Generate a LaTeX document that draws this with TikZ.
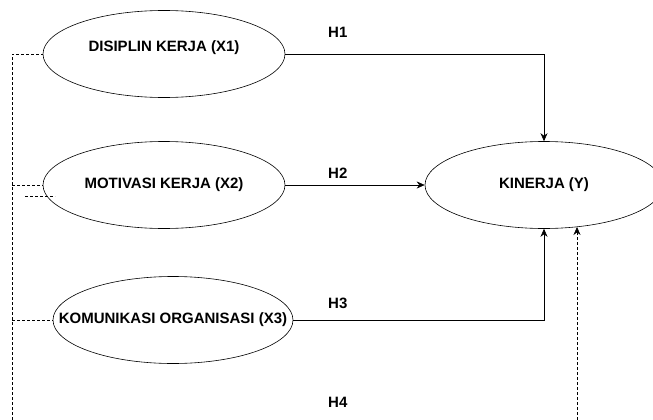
\documentclass[tikz,border=0pt]{standalone}
\usepackage{fontspec}
\setmainfont{Liberation Sans}
\usepackage{tikz}
\usetikzlibrary{shapes.geometric, arrows.meta, positioning}
\tikzstyle{arrow} = [semithick,->,>={Stealth[length=8pt,width=7pt]}]
\tikzstyle{dasharrow} = [semithick,->,>={Stealth[length=8pt,width=7pt]},dash pattern=on 3pt off 2pt]
\tikzstyle{dashline} = [semithick,dash pattern=on 3pt off 2pt]
\tikzstyle{var} = [ellipse, draw, semithick, minimum width=242pt, minimum height=87pt, inner sep=0pt, font=\fontsize{15}{17}\selectfont\bfseries]
\tikzstyle{hyp} = [anchor=west, inner sep=0pt, font=\fontsize{15}{17}\selectfont\bfseries]

\begin{document}
\begin{tikzpicture}[x=1pt, y=-1pt]
        \useasboundingbox (0,0) rectangle (653,420);
        \clip (0,0) rectangle (653,420);
        \node[var, label={[font=\fontsize{15}{17}\selectfont\bfseries, yshift=6pt]center:DISIPLIN KERJA (X1)}] (x1) at (164,54) {};
        \node[var] (x2) at (164,185) {\makebox[0pt]{MOTIVASI KERJA (X2)}};
        \node[var, minimum width=240pt] (x3) at (173,320) {\makebox[0pt]{KOMUNIKASI ORGANISASI (X3)}};
        \node[var, minimum width=238pt] (y) at (544,185) {\makebox[0pt]{KINERJA (Y)}};
        \node[hyp] (h1) at (328,32) {H1};
        \node[hyp] (h2) at (328,173) {H2};
        \node[hyp] (h3) at (328,303) {H3};
        \node[hyp] (h4) at (328,402) {H4};
        % direct paths
        \draw[arrow] (x1.east) -| (y.north);
        \draw[arrow] (x2.east) -- (y.west);
        \draw[arrow] (x3.east) -| (y.south);
        % dashed paths
        \coordinate (d0) at (12,420);
        \coordinate (d4) at (577,420);
        \coordinate (s1) at (25,196);
        \coordinate (s2) at (55,196);
        \draw[dashline] (d0) |- (x1.west);
        \draw[dashline] (d0 |- x2.west) -- (x2.west);
        \draw[dashline] (s1) -- (s2);
        \draw[dashline] (d0 |- x3.west) -- (x3.west);
        \draw[dasharrow] (d4) -- (d4 |- y.-51);
    \end{tikzpicture}
\end{document}
